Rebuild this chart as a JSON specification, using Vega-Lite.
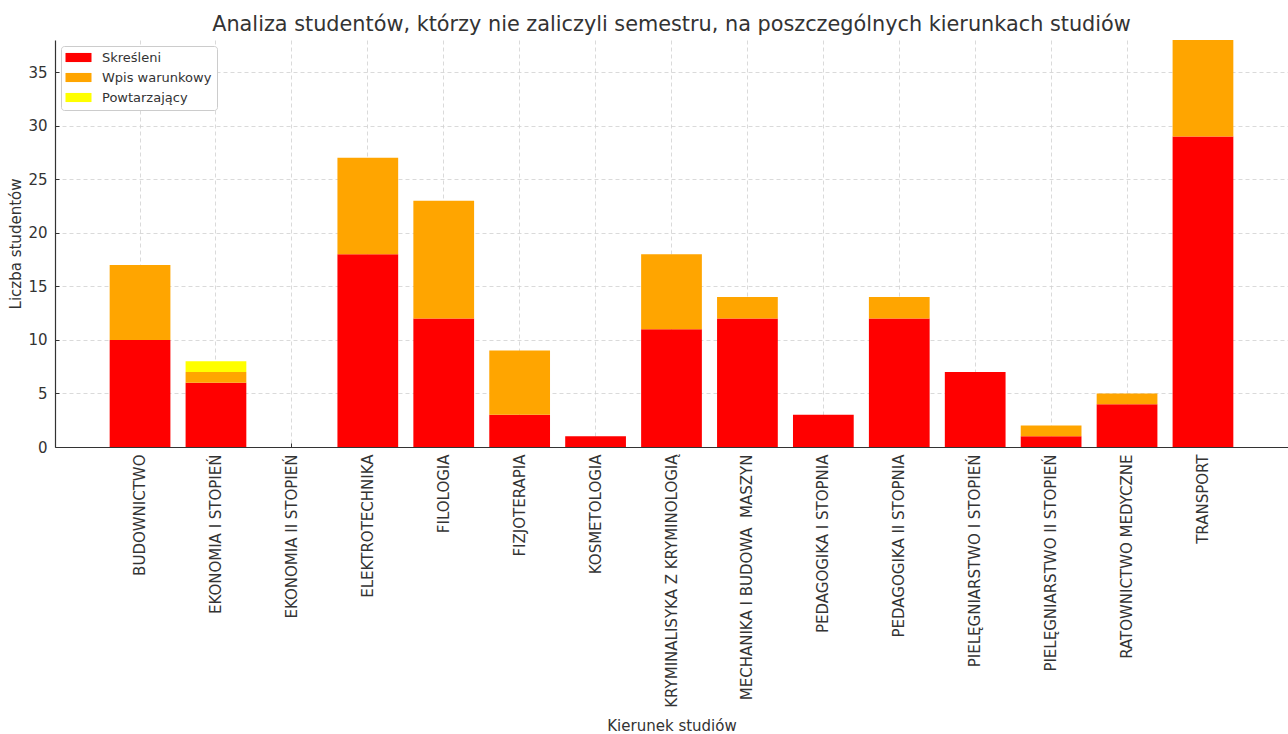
{
  "$schema": "https://vega.github.io/schema/vega-lite/v6.json",
  "width": 1233,
  "height": 407,
  "autosize": "none",
  "padding": {"left": 55, "top": 40, "right": 0, "bottom": 287},
  "background": "white",
  "title": {
    "text": "Analiza studentów, którzy nie zaliczyli semestru, na poszczególnych kierunkach studiów",
    "font": "DejaVu Sans",
    "fontSize": 20.8,
    "fontWeight": "normal",
    "color": "#333333",
    "anchor": "middle",
    "offset": 4
  },
  "data": {
    "values": [
      {"kierunek": "BUDOWNICTWO", "kategoria": "Skreśleni", "liczba": 10, "ord": 1},
      {"kierunek": "BUDOWNICTWO", "kategoria": "Wpis warunkowy", "liczba": 7, "ord": 2},
      {"kierunek": "BUDOWNICTWO", "kategoria": "Powtarzający", "liczba": 0, "ord": 3},
      {"kierunek": "EKONOMIA I STOPIEŃ", "kategoria": "Skreśleni", "liczba": 6, "ord": 1},
      {"kierunek": "EKONOMIA I STOPIEŃ", "kategoria": "Wpis warunkowy", "liczba": 1, "ord": 2},
      {"kierunek": "EKONOMIA I STOPIEŃ", "kategoria": "Powtarzający", "liczba": 1, "ord": 3},
      {"kierunek": "EKONOMIA II STOPIEŃ", "kategoria": "Skreśleni", "liczba": 0, "ord": 1},
      {"kierunek": "EKONOMIA II STOPIEŃ", "kategoria": "Wpis warunkowy", "liczba": 0, "ord": 2},
      {"kierunek": "EKONOMIA II STOPIEŃ", "kategoria": "Powtarzający", "liczba": 0, "ord": 3},
      {"kierunek": "ELEKTROTECHNIKA", "kategoria": "Skreśleni", "liczba": 18, "ord": 1},
      {"kierunek": "ELEKTROTECHNIKA", "kategoria": "Wpis warunkowy", "liczba": 9, "ord": 2},
      {"kierunek": "ELEKTROTECHNIKA", "kategoria": "Powtarzający", "liczba": 0, "ord": 3},
      {"kierunek": "FILOLOGIA", "kategoria": "Skreśleni", "liczba": 12, "ord": 1},
      {"kierunek": "FILOLOGIA", "kategoria": "Wpis warunkowy", "liczba": 11, "ord": 2},
      {"kierunek": "FILOLOGIA", "kategoria": "Powtarzający", "liczba": 0, "ord": 3},
      {"kierunek": "FIZJOTERAPIA", "kategoria": "Skreśleni", "liczba": 3, "ord": 1},
      {"kierunek": "FIZJOTERAPIA", "kategoria": "Wpis warunkowy", "liczba": 6, "ord": 2},
      {"kierunek": "FIZJOTERAPIA", "kategoria": "Powtarzający", "liczba": 0, "ord": 3},
      {"kierunek": "KOSMETOLOGIA", "kategoria": "Skreśleni", "liczba": 1, "ord": 1},
      {"kierunek": "KOSMETOLOGIA", "kategoria": "Wpis warunkowy", "liczba": 0, "ord": 2},
      {"kierunek": "KOSMETOLOGIA", "kategoria": "Powtarzający", "liczba": 0, "ord": 3},
      {"kierunek": "KRYMINALISYKA Z KRYMINOLOGIĄ", "kategoria": "Skreśleni", "liczba": 11, "ord": 1},
      {"kierunek": "KRYMINALISYKA Z KRYMINOLOGIĄ", "kategoria": "Wpis warunkowy", "liczba": 7, "ord": 2},
      {"kierunek": "KRYMINALISYKA Z KRYMINOLOGIĄ", "kategoria": "Powtarzający", "liczba": 0, "ord": 3},
      {"kierunek": "MECHANIKA I BUDOWA  MASZYN", "kategoria": "Skreśleni", "liczba": 12, "ord": 1},
      {"kierunek": "MECHANIKA I BUDOWA  MASZYN", "kategoria": "Wpis warunkowy", "liczba": 2, "ord": 2},
      {"kierunek": "MECHANIKA I BUDOWA  MASZYN", "kategoria": "Powtarzający", "liczba": 0, "ord": 3},
      {"kierunek": "PEDAGOGIKA I STOPNIA", "kategoria": "Skreśleni", "liczba": 3, "ord": 1},
      {"kierunek": "PEDAGOGIKA I STOPNIA", "kategoria": "Wpis warunkowy", "liczba": 0, "ord": 2},
      {"kierunek": "PEDAGOGIKA I STOPNIA", "kategoria": "Powtarzający", "liczba": 0, "ord": 3},
      {"kierunek": "PEDAGOGIKA II STOPNIA", "kategoria": "Skreśleni", "liczba": 12, "ord": 1},
      {"kierunek": "PEDAGOGIKA II STOPNIA", "kategoria": "Wpis warunkowy", "liczba": 2, "ord": 2},
      {"kierunek": "PEDAGOGIKA II STOPNIA", "kategoria": "Powtarzający", "liczba": 0, "ord": 3},
      {"kierunek": "PIELĘGNIARSTWO I STOPIEŃ", "kategoria": "Skreśleni", "liczba": 7, "ord": 1},
      {"kierunek": "PIELĘGNIARSTWO I STOPIEŃ", "kategoria": "Wpis warunkowy", "liczba": 0, "ord": 2},
      {"kierunek": "PIELĘGNIARSTWO I STOPIEŃ", "kategoria": "Powtarzający", "liczba": 0, "ord": 3},
      {"kierunek": "PIELĘGNIARSTWO II STOPIEŃ", "kategoria": "Skreśleni", "liczba": 1, "ord": 1},
      {"kierunek": "PIELĘGNIARSTWO II STOPIEŃ", "kategoria": "Wpis warunkowy", "liczba": 1, "ord": 2},
      {"kierunek": "PIELĘGNIARSTWO II STOPIEŃ", "kategoria": "Powtarzający", "liczba": 0, "ord": 3},
      {"kierunek": "RATOWNICTWO MEDYCZNE", "kategoria": "Skreśleni", "liczba": 4, "ord": 1},
      {"kierunek": "RATOWNICTWO MEDYCZNE", "kategoria": "Wpis warunkowy", "liczba": 1, "ord": 2},
      {"kierunek": "RATOWNICTWO MEDYCZNE", "kategoria": "Powtarzający", "liczba": 0, "ord": 3},
      {"kierunek": "TRANSPORT", "kategoria": "Skreśleni", "liczba": 29, "ord": 1},
      {"kierunek": "TRANSPORT", "kategoria": "Wpis warunkowy", "liczba": 9, "ord": 2},
      {"kierunek": "TRANSPORT", "kategoria": "Powtarzający", "liczba": 0, "ord": 3}
    ]
  },
  "mark": {"type": "bar"},
  "encoding": {
    "x": {
      "field": "kierunek",
      "type": "nominal",
      "sort": null,
      "scale": {"paddingInner": 0.2, "paddingOuter": 0.72},
      "axis": {
        "title": "Kierunek studiów",
        "labelAngle": -90,
        "labelPadding": 11,
        "labelLimit": 320,
        "titleY": 271,
        "titleBaseline": "top",
        "labelExpr": "replace(datum.label, '  ', ' \u00a0')"
      }
    },
    "y": {
      "field": "liczba",
      "type": "quantitative",
      "stack": "zero",
      "scale": {"domain": [0, 38], "nice": false},
      "axis": {
        "title": "Liczba studentów",
        "values": [0, 5, 10, 15, 20, 25, 30, 35],
        "labelPadding": 12,
        "titlePadding": 4
      }
    },
    "color": {
      "field": "kategoria",
      "type": "nominal",
      "scale": {
        "domain": ["Skreśleni", "Wpis warunkowy", "Powtarzający"],
        "range": ["#ff0000", "#ffa500", "#ffff00"]
      },
      "legend": {
        "title": null,
        "orient": "top-left",
        "offset": 6,
        "padding": 5,
        "fillColor": "white",
        "strokeColor": "#cccccc",
        "cornerRadius": 3,
        "symbolType": "M-2,-0.7H2V0.7H-2Z",
        "symbolSize": 169,
        "symbolOffset": 6,
        "symbolStrokeWidth": 0,
        "symbolOpacity": 1,
        "labelFont": "DejaVu Sans",
        "labelFontSize": 13,
        "labelColor": "#333333",
        "labelOffset": 17,
        "rowPadding": 6
      }
    },
    "order": {"field": "ord", "type": "quantitative"}
  },
  "config": {
    "view": {"stroke": null},
    "axis": {
      "labelFont": "DejaVu Sans",
      "titleFont": "DejaVu Sans",
      "labelFontSize": 15,
      "titleFontSize": 15,
      "titleFontWeight": "normal",
      "labelColor": "#333333",
      "titleColor": "#333333",
      "domainColor": "#333333",
      "domainWidth": 1.2,
      "tickColor": "#333333",
      "tickSize": -4,
      "grid": true,
      "gridColor": "#d0d0d0",
      "gridDash": [4, 3],
      "gridWidth": 0.8,
      "zindex": 1
    }
  }
}
